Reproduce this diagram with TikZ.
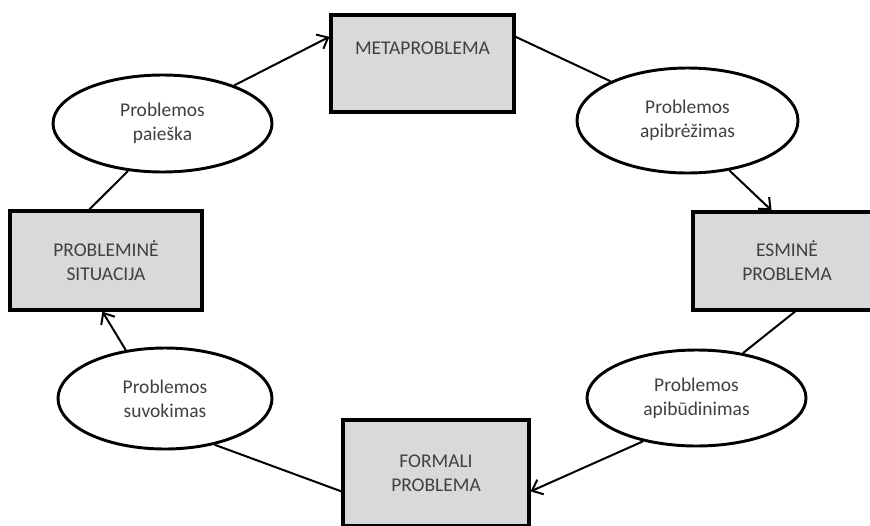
\documentclass[tikz,border=0pt]{standalone}
\usepackage{fontspec}
\setmainfont{Carlito}
\usetikzlibrary{shapes,arrows.meta}
\newlength{\px}
\setlength{\px}{0.75pt}
\definecolor{boxgray}{RGB}{217,217,217}
\definecolor{txtgray}{RGB}{64,64,64}
\tikzstyle{state} = [rectangle, draw, line width=2.4pt, fill=boxgray,
    text=txtgray, align=center, inner sep=0pt]
\tikzstyle{process} = [ellipse, draw, line width=2.2pt, fill=white,
    text=txtgray, align=center, inner sep=0pt]
\tikzstyle{line} = [draw, line width=1.5pt]
\tikzstyle{arrow} = [line, -{Straight Barb[length=7pt,width=12pt,line width=1.5pt]}]
\begin{document}
\begin{tikzpicture}[x=\px, y=-\px, font=\fontsize{14.6}{18}\selectfont]
        \useasboundingbox (0,0) rectangle (870,525);
        % Place nodes
        % 1. Problem states (boxes)
        \node [state, minimum width=183\px, minimum height=97\px] (meta) at (422.5,63.5)
              {METAPROBLEMA\\ \strut};
        \node [state, minimum width=192\px, minimum height=99\px] (situ) at (106,260.5)
              {PROBLEMINĖ\\SITUACIJA};
        \node [state, minimum width=188\px, minimum height=98\px] (esmi) at (787,261)
              {ESMINĖ\\PROBLEMA};
        \node [state, minimum width=186\px, minimum height=106\px] (form) at (436,473)
              {FORMALI\\PROBLEMA};

        % 2. Transitions between states (ellipses)
        \node [process, minimum width=219\px, minimum height=97\px] (paie) at (162.5,123.5)
              {Problemos\\paieška};
        \node [process, minimum width=221\px, minimum height=105\px] (apbr) at (687.5,120.5)
              {Problemos\\apibrėžimas};
        \node [process, minimum width=219\px, minimum height=96\px] (apbu) at (696.5,398)
              {Problemos\\apibūdinimas};
        \node [process, minimum width=214\px, minimum height=101\px] (suvo) at (165,398.5)
              {Problemos\\suvokimas};

        % Draw edges
        \path [arrow] (paie.28) -- (meta.164);
        \path [line] (meta.16) -- (apbr.153);
        \path [arrow] (apbr.310) -- (esmi.107);
        \path [line] (esmi.279) -- (apbu.44);
        \path [arrow] (apbu.219.5) -- (form.349.5);
        \path [line] (form.191) -- (suvo.317.5);
        \path [arrow] (suvo.129) -- (situ.266.5);
        \path [line] (situ.108) -- (paie.234);

      \end{tikzpicture}
\end{document}
